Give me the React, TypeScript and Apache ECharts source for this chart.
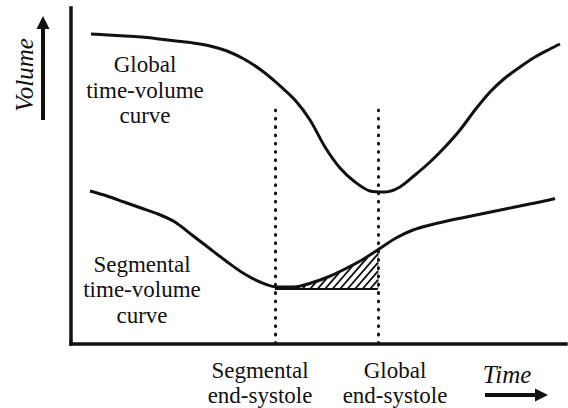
import React, { useEffect, useRef } from "react";
import * as echarts from "echarts";

// Time (arbitrary units) and volume (arbitrary units)
const globalTime = [20, 37, 54, 71, 88, 105, 122, 139, 156, 173, 190, 207, 224, 239, 254, 269, 284, 299, 314, 329, 344, 359, 374, 389, 404, 419, 434, 449, 464, 479, 489];
const globalVolume = [310, 309, 308, 307, 305, 303, 301, 298, 293, 285, 274, 260, 244, 224, 197, 176, 162, 153, 152, 157, 169, 182, 197, 214, 234, 252, 266, 277, 287, 295, 300];
const segTime = [19, 36, 53, 70, 87, 104, 121, 138, 155, 172, 189, 206, 223, 240, 257, 274, 291, 308, 325, 342, 359, 376, 393, 410, 427, 444, 461, 478, 484];
const segVolume = [153, 148, 142, 136, 130, 122, 109, 96, 83, 71, 62, 57, 57, 61, 67, 75, 84, 95, 106, 114, 119, 123, 126.5, 130, 133.5, 137, 140.5, 144, 145.5];
const segmentalEndSystole = 204;
const globalEndSystole = 307;
const hatchBase = 55;
const markerTop = 234;
const timeMax = 495;
const volumeMax = 336;

const FONT = "'Liberation Serif', 'Times New Roman', serif";
const INK = "#111";

export default function App() {
  const ref = useRef<HTMLDivElement>(null);

  useEffect(() => {
    if (!ref.current) return;
    const chart = echarts.init(ref.current, undefined, { renderer: "svg" });

    const text = (t: string, x: number, y: number, size = 23, italic = false, extra: any = {}) => ({
      type: "text",
      x,
      y,
      silent: true,
      ...extra,
      style: {
        text: t,
        font: `${italic ? "italic " : ""}${size}px ${FONT}`,
        fill: INK,
        align: "center",
        verticalAlign: "middle",
      },
    });

    const option: any = {
      animation: false,
      backgroundColor: "#fff",
      grid: { left: 71, right: 2, top: 8, bottom: 64, containLabel: false },
      xAxis: {
        type: "value",
        min: 0,
        max: timeMax,
        axisLine: { show: true, onZero: false, lineStyle: { color: INK, width: 3.5, cap: "square" } },
        axisTick: { show: false },
        axisLabel: { show: false },
        splitLine: { show: false },
      },
      yAxis: {
        type: "value",
        min: 0,
        max: volumeMax,
        axisLine: { show: true, onZero: false, lineStyle: { color: INK, width: 3.5, cap: "square" } },
        axisTick: { show: false },
        axisLabel: { show: false },
        splitLine: { show: false },
      },
      series: [
        {
          type: "custom",
          coordinateSystem: "cartesian2d",
          z: 1,
          silent: true,
          clip: false,
          data: [[segmentalEndSystole, globalEndSystole, hatchBase]],
          encode: { x: [0, 1], y: 2 },
          renderItem: (params: any, api: any) => {
            const x0 = api.value(0);
            const x1 = api.value(1);
            const base = api.value(2);
            const pts = segTime.map((t, i) => api.coord([t, segVolume[i]]));
            const curveY = (px: number) => {
              for (let i = 0; i < pts.length - 1; i++) {
                const a = pts[i], b = pts[i + 1];
                if (px >= a[0] && px <= b[0]) {
                  const f = (px - a[0]) / (b[0] - a[0]);
                  return a[1] + f * (b[1] - a[1]);
                }
              }
              return pts[pts.length - 1][1];
            };
            const pL = api.coord([x0, base]);
            const pR = api.coord([x1, base]);
            const yb = pL[1];
            const children: any[] = [];
            children.push({
              type: "line",
              shape: { x1: pL[0], y1: yb, x2: pR[0], y2: yb },
              style: { stroke: INK, lineWidth: 2 },
            });
            children.push({
              type: "line",
              shape: { x1: pR[0], y1: yb, x2: pR[0], y2: curveY(pR[0]) },
              style: { stroke: "#777", lineWidth: 1 },
            });
            const k = 1.15;
            for (let sx = pL[0] + 5; sx < pR[0]; sx += 7.5) {
              let t = 0;
              while (true) {
                const x = sx + t;
                const y = yb - k * t;
                if (x >= pR[0] || y <= curveY(x) + 1) break;
                t += 0.25;
              }
              if (t > 0.5) {
                children.push({
                  type: "line",
                  shape: { x1: sx, y1: yb, x2: sx + t, y2: yb - k * t },
                  style: { stroke: INK, lineWidth: 1.9 },
                });
              }
            }
            return { type: "group", children };
          },
        },
        {
          type: "line",
          name: "Global",
          data: globalTime.map((t, i) => [t, globalVolume[i]]),
          smooth: 0.3,
          showSymbol: false,
          symbol: "none",
          z: 3,
          lineStyle: { color: INK, width: 3 },
        },
        {
          type: "line",
          name: "Segmental",
          data: segTime.map((t, i) => [t, segVolume[i]]),
          smooth: 0.3,
          showSymbol: false,
          symbol: "none",
          z: 3,
          lineStyle: { color: INK, width: 3 },
          markLine: {
            silent: true,
            symbol: ["none", "none"],
            label: { show: false },
            lineStyle: { color: INK, width: 3, type: [0.8, 7.5], cap: "round" },
            data: [
              [{ coord: [segmentalEndSystole, markerTop] }, { coord: [segmentalEndSystole, 0] }],
              [{ coord: [globalEndSystole, markerTop] }, { coord: [globalEndSystole, 0] }],
            ],
          },
        },
      ],
      graphic: [
        text("Global", 145, 64.5),
        text("time-volume", 145, 90.5),
        text("curve", 145, 115.5),
        text("Segmental", 142, 264.5),
        text("time-volume", 142, 289.5),
        text("curve", 142, 315.5),
        text("Segmental", 260, 370.5),
        text("end-systole", 260, 395.5),
        text("Global", 395, 370.5),
        text("end-systole", 395, 395.5),
        text("Time", 507, 374.5, 25, true),
        text("Volume", 24.5, 75, 25, true, { rotation: Math.PI / 2 }),
        { type: "line", silent: true, shape: { x1: 485, y1: 395, x2: 537, y2: 395 }, style: { stroke: INK, lineWidth: 4 } },
        { type: "polygon", silent: true, shape: { points: [[535, 388.5], [548, 395], [535, 401.5]] }, style: { fill: INK } },
        { type: "line", silent: true, shape: { x1: 43, y1: 120, x2: 43, y2: 27 }, style: { stroke: INK, lineWidth: 4 } },
        { type: "polygon", silent: true, shape: { points: [[36.5, 29], [43, 16], [49.5, 29]] }, style: { fill: INK } },
      ],
    };

    chart.setOption(option);
    return () => chart.dispose();
  }, []);

  return (
    <div
      ref={ref}
      style={{ position: "absolute", left: 0, top: 0, width: 568, height: 408, background: "#fff" }}
    />
  );
}
